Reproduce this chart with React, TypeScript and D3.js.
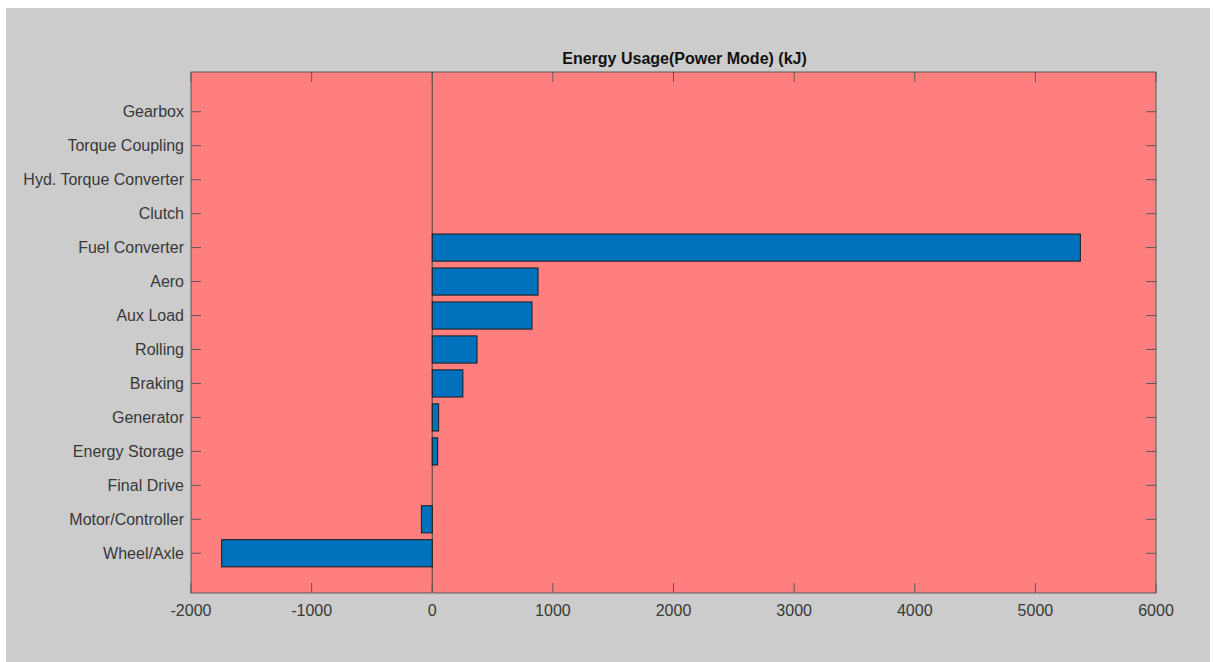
import React from "react";
import * as d3 from "d3";

const categories = [
  "Wheel/Axle",
  "Motor/Controller",
  "Final Drive",
  "Energy Storage",
  "Generator",
  "Braking",
  "Rolling",
  "Aux Load",
  "Aero",
  "Fuel Converter",
  "Clutch",
  "Hyd. Torque Converter",
  "Torque Coupling",
  "Gearbox",
];
const values = [-1746, -90, 0, 45, 53, 254, 371, 827, 877, 5373, 0, 0, 0, 0];
const xTicks = [-2000, -1000, 0, 1000, 2000, 3000, 4000, 5000, 6000];
const title = "Energy Usage(Power Mode) (kJ)";

export default function App() {
  const W = 1214, H = 662;
  const left = 191, right = 1156, top = 72, bottom = 593;
  const x = d3.scaleLinear().domain([-2000, 6000]).range([left, right]);
  const n = categories.length;
  const pad = 1.17;
  const y = d3.scaleLinear().domain([1 - pad, n + pad]).range([bottom, top]);
  const barH = 0.8 * (y(1) - y(2));
  const axisColor = "#5a5a5a";
  const textColor = "#383838";
  const font = "'Liberation Sans', Arial, Helvetica, sans-serif";
  const tickLen = 10;

  return (
    <svg width={W} height={H} style={{ position: "absolute", left: 0, top: 0 }} fontFamily={font}>
      <rect x={0} y={0} width={W} height={H} fill="#ffffff" />
      <rect x={6} y={8} width={1204} height={H - 8} fill="#cccccc" />
      <rect x={left} y={top} width={right - left} height={bottom - top} fill="#ff7f7f" />
      {/* zero baseline */}
      <line x1={x(0)} x2={x(0)} y1={top} y2={bottom} stroke="#6b4b4b" strokeWidth={1.2} />
      {/* bars */}
      {values.map((v, i) => {
        if (v === 0) return null;
        const x0 = x(Math.min(0, v));
        const x1 = x(Math.max(0, v));
        return (
          <rect
            key={i}
            x={x0}
            y={y(i + 1) - barH / 2}
            width={x1 - x0}
            height={barH}
            fill="#0072bd"
            stroke="#1a1a1a"
            strokeWidth={1}
          />
        );
      })}
      {/* ticks */}
      {xTicks.map((t) => (
        <g key={t}>
          <line x1={x(t)} x2={x(t)} y1={bottom} y2={bottom - tickLen} stroke={axisColor} />
          <line x1={x(t)} x2={x(t)} y1={top} y2={top + tickLen} stroke={axisColor} />
          <text x={x(t)} y={611.5} textAnchor="middle" dominantBaseline="middle" fontSize={16} fill={textColor}>
            {t}
          </text>
        </g>
      ))}
      {categories.map((c, i) => (
        <g key={c}>
          <line x1={left} x2={left + tickLen} y1={y(i + 1)} y2={y(i + 1)} stroke={axisColor} />
          <line x1={right} x2={right - tickLen} y1={y(i + 1)} y2={y(i + 1)} stroke={axisColor} />
          <text x={184} y={y(i + 1) + 1.5} textAnchor="end" dominantBaseline="middle" fontSize={16} fill={textColor}>
            {c}
          </text>
        </g>
      ))}
      <rect x={left} y={top} width={right - left} height={bottom - top} fill="none" stroke={axisColor} strokeWidth={1} />
      <text x={(left + right) / 2 + 11} y={60} textAnchor="middle" dominantBaseline="middle" fontSize={16} fontWeight="bold" fill="#111">
        {title}
      </text>
    </svg>
  );
}
